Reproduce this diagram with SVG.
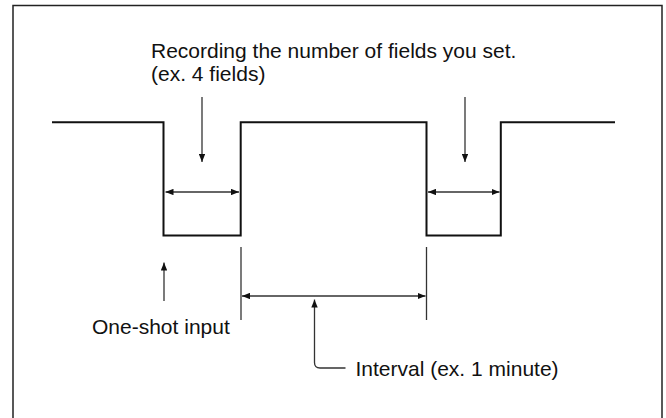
<svg xmlns="http://www.w3.org/2000/svg" width="666" height="418" viewBox="0 0 666 418">
<style>
.frame{fill:none;stroke:#222;stroke-width:1.5}
.wave{fill:none;stroke:#111;stroke-width:2}
.ln{fill:none;stroke:#333;stroke-width:1.3}
.t{font-family:"Liberation Sans",Arial,sans-serif;font-size:21px;fill:#111}
</style>
<defs>
<marker id="ah" viewBox="0 0 10 8" refX="10" refY="4" markerWidth="8" markerHeight="6.4" markerUnits="userSpaceOnUse" orient="auto-start-reverse">
<path d="M0,0 L10,4 L0,8 Z" fill="#111"/>
</marker>
</defs>
<rect class="frame" x="13" y="5.5" width="649" height="430"/>
<g id="waveform">
<path class="wave" d="M52,122.3 H163.5 V235.5 H240.7 V122.3 H426.5 V235.5 H500.8 V122.3 H615"/>
</g>
<g id="label-recording">
<text class="t" x="151" y="58">Recording the number of fields you set.</text>
<text class="t" x="151" y="81">(ex. 4 fields)</text>
</g>
<g id="label-oneshot">
<text class="t" x="92" y="334">One-shot input</text>
</g>
<g id="label-interval">
<text class="t" x="355.5" y="376">Interval (ex. 1 minute)</text>
</g>
<g id="connectors">
<line class="ln" x1="202" y1="97" x2="202" y2="162" marker-end="url(#ah)"/>
<line class="ln" x1="465" y1="97" x2="465" y2="162" marker-end="url(#ah)"/>
<line class="ln" x1="165.5" y1="192" x2="239" y2="192" marker-start="url(#ah)" marker-end="url(#ah)"/>
<line class="ln" x1="428" y1="192" x2="499.5" y2="192" marker-start="url(#ah)" marker-end="url(#ah)"/>
<line class="ln" x1="164" y1="301" x2="164" y2="262.5" marker-end="url(#ah)"/>
<line class="ln" x1="241" y1="247" x2="241" y2="320"/>
<line class="ln" x1="426.5" y1="247" x2="426.5" y2="320"/>
<line class="ln" x1="242" y1="296" x2="425.5" y2="296" marker-start="url(#ah)" marker-end="url(#ah)"/>
<path class="ln" d="M345.5,368 H320 Q314.5,368 314.5,362.5 V299.5" marker-end="url(#ah)"/>
</g>
</svg>
